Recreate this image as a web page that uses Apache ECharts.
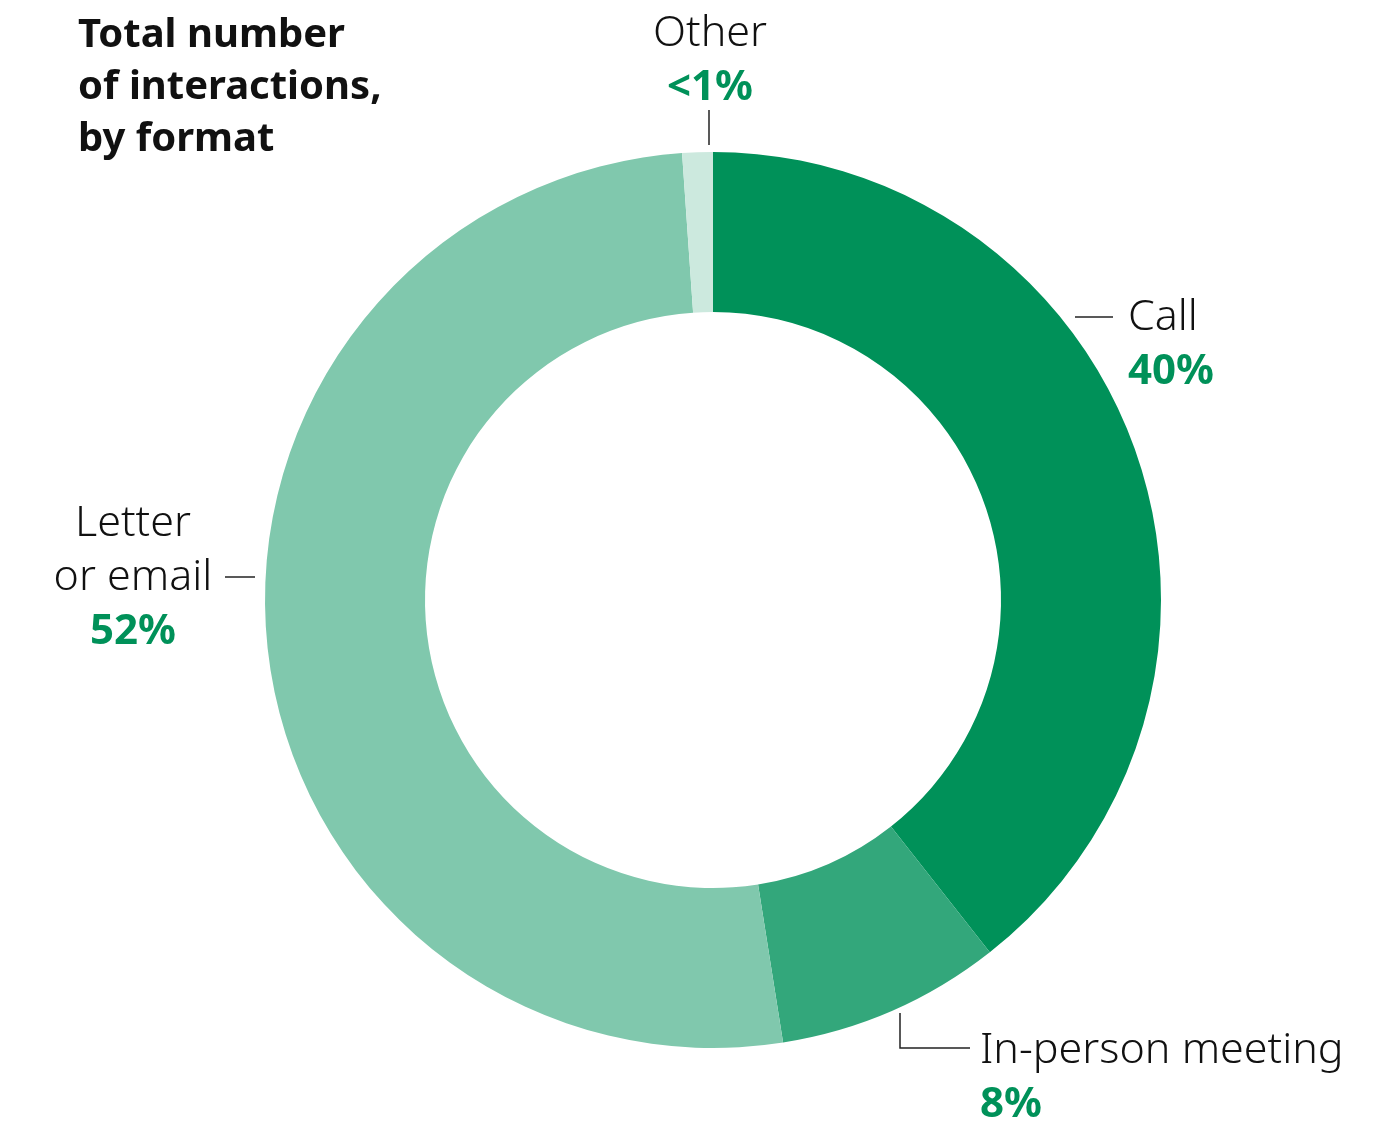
<!DOCTYPE html>
<html>
<head>
<meta charset="utf-8">
<script src="https://cdn.jsdelivr.net/npm/echarts@6/dist/echarts.min.js"></script>
<style>
  html, body { margin: 0; padding: 0; background: #fff; }
  #chart { width: 1378px; height: 1129px; }
</style>
</head>
<body>
<div id="chart"></div>
<script>
// data (share of all interactions, %)
var categories = ["Call", "In-person meeting", "Letter\nor email", "Other"];
var shares = [39.4, 8.1, 51.4, 1.1];
var shareLabels = ["40%", "8%", "52%", "<1%"];
var sliceColors = ["#009159", "#33a77b", "#80c8ad", "#cce9de"];

// where each label sits (x, y of the anchor, align)
var labelSpots = [
  { x: 1128, y: 291, align: "left" },
  { x: 980, y: 1024, align: "left" },
  { x: 133, y: 497, align: "center" },
  { x: 710, y: 7, align: "center" }
];

var font = "Noto Sans";
var myChart = echarts.init(document.getElementById("chart"));

var option = {
  animation: false,
  title: {
    text: "Total number\nof interactions,\nby format",
    left: 73,
    top: 5,
    textStyle: {
      fontFamily: font,
      fontSize: 40,
      fontWeight: "bold",
      color: "#111",
      lineHeight: 52
    }
  },
  series: [
    {
      type: "pie",
      center: [713, 600],
      radius: [288, 448],
      startAngle: 90,
      clockwise: true,
      avoidLabelOverlap: false,
      itemStyle: { borderWidth: 0 },
      data: categories.map(function (c, i) {
        return { name: c, value: shares[i], itemStyle: { color: sliceColors[i] } };
      }),
      label: {
        show: true,
        formatter: function (p) {
          var names = p.name.split("\n").map(function (s) { return "{n|" + s + "}"; });
          return names.join("\n") + "\n{p|" + shareLabels[p.dataIndex] + "}";
        },
        rich: {
          n: { fontFamily: font, fontSize: 43, fontWeight: 300, color: "#111", lineHeight: 54 },
          p: { fontFamily: font, fontSize: 42, fontWeight: "bold", color: "#009159", lineHeight: 54 }
        }
      },
      labelLine: { show: false },
      labelLayout: function (params) {
        var s = labelSpots[params.dataIndex];
        return { x: s.x, y: s.y, align: s.align, verticalAlign: "top" };
      }
    }
  ],
  graphic: [
    // leader lines
    { type: "polyline", shape: { points: [[1075, 317], [1113, 317]] }, style: { stroke: "#222", lineWidth: 1.5, fill: null } },
    { type: "polyline", shape: { points: [[900, 1013], [900, 1048], [970, 1048]] }, style: { stroke: "#222", lineWidth: 1.5, fill: null } },
    { type: "polyline", shape: { points: [[225, 577], [255, 577]] }, style: { stroke: "#222", lineWidth: 1.5, fill: null } },
    { type: "polyline", shape: { points: [[709, 110], [709, 145]] }, style: { stroke: "#222", lineWidth: 1.5, fill: null } }
  ]
};

myChart.setOption(option);
window.addEventListener("resize", function () {
  myChart.resize();
});
</script>
</body>
</html>
